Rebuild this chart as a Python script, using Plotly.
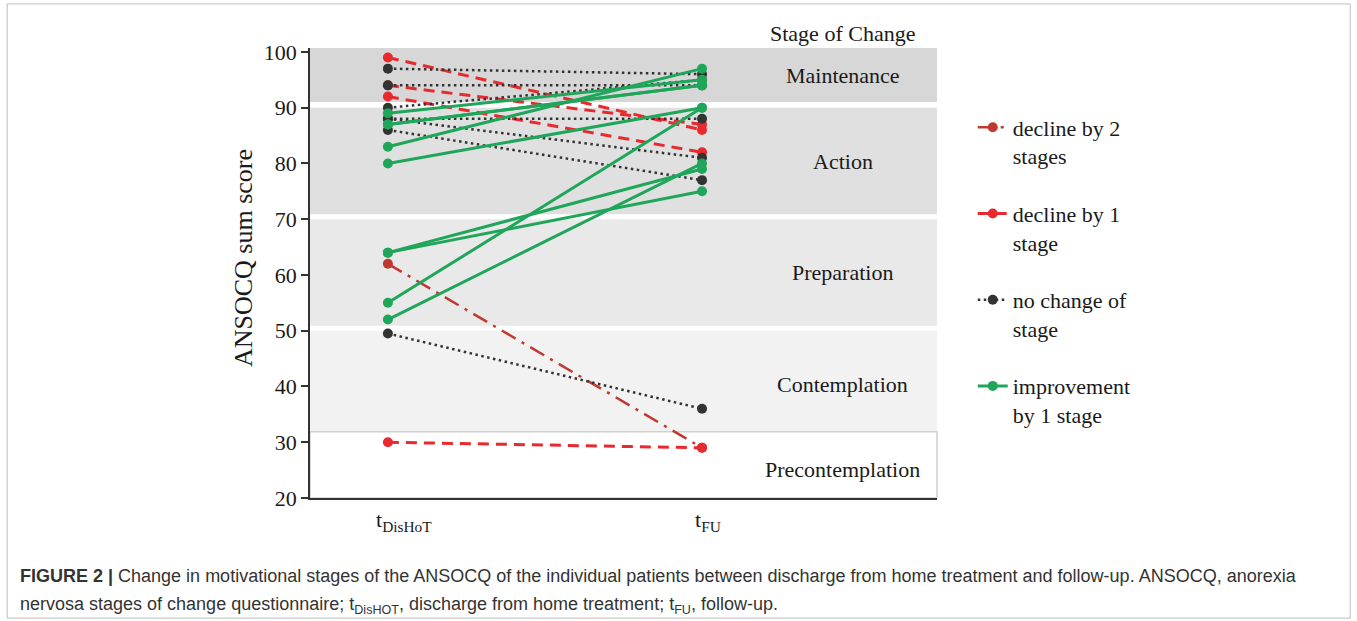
import plotly.graph_objects as go

# ---------------- data ----------------
time_labels = ["t<sub>DisHoT</sub>", "t<sub>FU</sub>"]

decline2_t0 = [62]
decline2_t1 = [29]

decline1_t0 = [99, 94, 92, 30]
decline1_t1 = [86, 87, 82, 29]

nochange_t0 = [97, 94, 90, 88, 88, 86, 49.5]
nochange_t1 = [96, 94, 95, 88, 81, 77, 36]

improve_t0 = [89, 87, 87, 83, 80, 64, 64, 55, 52]
improve_t1 = [95, 94, 94, 97, 90, 79, 75, 90, 80]

stage_names = ["Maintenance", "Action", "Preparation", "Contemplation", "Precontemplation"]
stage_low = [91, 70.9, 50.9, 31.9, 20]
stage_high = [100.7, 90, 70, 50, 31.9]
stage_label_y = [95.85, 80.4, 60.4, 40.4, 25.2]
stage_fill = ["#d7d7d7", "#e0e0e0", "#e9e9e9", "#f2f2f2", "#ffffff"]

series_names = ["decline by 2<br>stages", "decline by 1<br>stage",
                "no change of<br>stage", "improvement<br>by 1 stage"]
series_colors = ["#C0382F", "#E8292D", "#333333", "#20A65A"]
series_dash = ["16px,7px,3px,7px", "11px,7px", "2.5px,3.5px", "solid"]
series_width = [2.5, 3, 2.5, 3]
series_t0 = [decline2_t0, decline1_t0, nochange_t0, improve_t0]
series_t1 = [decline2_t1, decline1_t1, nochange_t1, improve_t1]

SERIF = "Liberation Serif, Times New Roman, serif"
SANS = "Liberation Sans, Arial, sans-serif"
TXT = "#1a1a1a"

fig = go.Figure()

for i, name in enumerate(series_names):
    xs, ys = [], []
    for a, b in zip(series_t0[i], series_t1[i]):
        xs += [0, 1, None]
        ys += [a, b, None]
    fig.add_trace(go.Scatter(
        x=xs, y=ys, mode="lines+markers", name=name,
        legendgroup="g%d" % i, connectgaps=False,
        line=dict(color=series_colors[i], width=series_width[i], dash=series_dash[i]),
        marker=dict(color=series_colors[i], size=10),
        hoverinfo="skip",
    ))

shapes = []
for nm, lo, hi, fc in zip(stage_names, stage_low, stage_high, stage_fill):
    shapes.append(dict(
        type="rect", xref="paper", yref="y", x0=0, x1=1, y0=lo, y1=hi,
        fillcolor=fc, layer="below",
        line=dict(width=1.5 if nm == "Precontemplation" else 0, color="#d0d0d0"),
    ))
# outer frame
shapes.append(dict(type="rect", xref="paper", yref="paper",
                   x0=-0.483, x1=1.659, y0=-0.267, y1=1.098,
                   line=dict(color="#bdbdbd", width=1), layer="below"))

annotations = []
for nm, ly in zip(stage_names, stage_label_y):
    annotations.append(dict(x=0.85, xref="paper", y=ly, yref="y", text=nm,
                            xanchor="center", yanchor="middle",
                            showarrow=False, font=dict(family=SERIF, size=22, color=TXT)))
annotations.append(dict(x=0.85, xref="paper", y=1.033, yref="paper", text="Stage of Change",
                        xanchor="center", yanchor="middle",
                        showarrow=False, font=dict(family=SERIF, size=22, color=TXT)))
# y axis title
annotations.append(dict(x=-0.107, xref="paper", y=0.533, yref="paper", text="ANSOCQ sum score",
                        textangle=-90, xanchor="center", yanchor="middle", showarrow=False,
                        font=dict(family=SERIF, size=26, color=TXT)))
# x tick labels
for xv, lab, sh in zip([0, 1], time_labels, [16, 6]):
    annotations.append(dict(x=xv, xref="x", y=-0.05, yref="paper", text=lab, xshift=sh,
                            showarrow=False, xanchor="center", yanchor="middle",
                            font=dict(family=SERIF, size=22, color=TXT)))
# caption
annotations.append(dict(x=-0.4657, xref="paper", y=-0.1733, yref="paper", xanchor="left",
                        yanchor="middle", showarrow=False, align="left",
                        text="<b>FIGURE 2 |</b> Change in motivational stages of the ANSOCQ of the individual patients between discharge from home treatment and follow-up. ANSOCQ, anorexia",
                        font=dict(family=SANS, size=18, color="#333333")))
annotations.append(dict(x=-0.4657, xref="paper", y=-0.2378, yref="paper", xanchor="left",
                        yanchor="middle", showarrow=False, align="left",
                        text="nervosa stages of change questionnaire; t<sub>DisHOT</sub>, discharge from home treatment; t<sub>FU</sub>, follow-up.",
                        font=dict(family=SANS, size=18, color="#333333")))

fig.update_layout(
    width=1357, height=621,
    margin=dict(l=310, r=420, t=48, b=123, pad=0),
    paper_bgcolor="white", plot_bgcolor="white",
    shapes=shapes, annotations=annotations,
    showlegend=True,
    legend=dict(x=1.057, xanchor="left", y=0.87, yanchor="top",
                font=dict(family=SERIF, size=22, color=TXT),
                valign="top", tracegroupgap=26, itemwidth=30,
                bgcolor="rgba(0,0,0,0)"),
    xaxis=dict(range=[-0.248, 1.748], showgrid=False, zeroline=False,
               showline=True, linecolor="#333333", linewidth=1.5,
               showticklabels=False, ticks=""),
    yaxis=dict(range=[20, 100.7], showgrid=False, zeroline=False,
               showline=True, linecolor="#333333", linewidth=1.5,
               ticks="outside", ticklen=7, tickwidth=1.5, tickcolor="#333333",
               tickvals=[20, 30, 40, 50, 60, 70, 80, 90, 100],
               ticksuffix="\u00a0",
               tickfont=dict(family=SERIF, size=22, color=TXT)),
)

fig.write_html("out.html", config={"displayModeBar": False},
               post_script="document.body.style.margin='0';")
